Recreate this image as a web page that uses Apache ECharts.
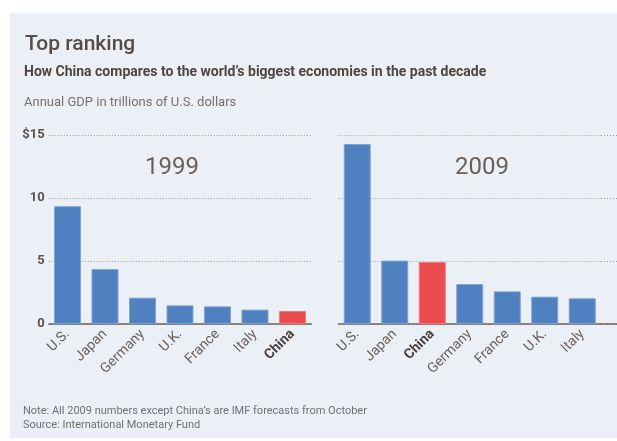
<!DOCTYPE html>
<html>
<head>
<meta charset="utf-8">
<script src="https://cdn.jsdelivr.net/npm/echarts@6/dist/echarts.min.js"></script>
<style>
html,body{margin:0;padding:0;background:#fff;}
#wrap{position:relative;width:617px;height:441px;overflow:hidden;}
#panel{position:absolute;left:10px;top:13px;width:607px;height:425px;background:#ebf0f7;}
#chart{position:absolute;left:0;top:0;width:617px;height:441px;}
</style>
</head>
<body>
<div id="wrap"><div id="panel"></div><div id="chart"></div></div>
<script>
const categories1999 = ['U.S.', 'Japan', 'Germany', 'U.K.', 'France', 'Italy', 'China'];
const values1999 = [9.35, 4.36, 2.09, 1.48, 1.40, 1.14, 1.03];
const categories2009 = ['U.S.', 'Japan', 'China', 'Germany', 'France', 'U.K.', 'Italy'];
const values2009 = [14.29, 5.03, 4.92, 3.17, 2.59, 2.17, 2.04];
const yTicks = [0, 5, 10, 15];
const yTickLabels = ['0', '5', '10', '$15'];
const highlight = 'China';

const FONT = "Roboto, 'Noto Sans', sans-serif";
const BLUE = '#4f81c0';
const RED = '#eb4a4e';
const TXT = '#5e524c';

function barData(cats, vals) {
  return vals.map((v, i) => ({
    value: v,
    itemStyle: { color: cats[i] === highlight ? RED : BLUE, borderColor: cats[i] === highlight ? '#f07a7d' : '#7fa3d3', borderWidth: 1 }
  }));
}
function xLabel() {
  return {
    rotate: 45, margin: 8, fontSize: 14, color: '#6b5f58', fontFamily: FONT, interval: 0,
    formatter: v => v === highlight ? '{b|' + v + '}' : v,
    rich: { b: { fontWeight: 'bold', color: '#4a3f3a', fontSize: 14, fontFamily: FONT } }
  };
}
const splitLine = { show: true, lineStyle: { type: [1, 2], color: '#9a9a9a', width: 1 } };
const axisLine = { lineStyle: { color: '#6f625b', width: 1.5 } };

const chart = echarts.init(document.getElementById('chart'), null, { renderer: 'canvas' });
chart.setOption({
  animation: false,
  title: [
    { text: 'Top ranking', left: 20, top: 29, textStyle: { fontSize: 21, fontWeight: 500, color: '#574b45', fontFamily: FONT } },
    { text: 'How China compares to the world\u2019s biggest economies in the past decade', left: 19, top: 60, textStyle: { fontSize: 14, fontWeight: 'bold', color: '#4f4540', fontFamily: FONT } },
    { text: 'Annual GDP in trillions of U.S. dollars', left: 19, top: 91, textStyle: { fontSize: 13, fontWeight: 'normal', color: '#7a6f69', fontFamily: FONT } },
    { text: '1999', left: 167, top: 151, textAlign: 'center', textStyle: { fontSize: 24, fontWeight: 'normal', color: '#6b5f58', fontFamily: FONT } },
    { text: '2009', left: 477, top: 151, textAlign: 'center', textStyle: { fontSize: 24, fontWeight: 'normal', color: '#6b5f58', fontFamily: FONT } },
    { text: 'Note: All 2009 numbers except China\u2019s are IMF forecasts from October\nSource: International Monetary Fund', left: 18, top: 399,
      textStyle: { fontSize: 11, fontWeight: 'normal', color: '#707070', fontFamily: FONT, lineHeight: 14 } }
  ],
  grid: [
    { left: 48.75, top: 135, width: 262.5, height: 189 },
    { left: 338.5, top: 135, width: 262.5, height: 189 },
    { left: 601, top: 135, width: 16, height: 189 }
  ],
  xAxis: [
    { type: 'category', gridIndex: 0, data: categories1999, axisTick: { show: false }, axisLine: axisLine, axisLabel: xLabel() },
    { type: 'category', gridIndex: 1, data: categories2009, axisTick: { show: false }, axisLine: axisLine, axisLabel: xLabel() },
    { type: 'category', gridIndex: 2, data: [''], axisTick: { show: false }, axisLine: axisLine, axisLabel: { show: false } }
  ],
  yAxis: [
    { type: 'value', gridIndex: 0, min: 0, max: 15, interval: 5,
      axisLine: { show: false }, axisTick: { show: false }, splitLine: splitLine,
      axisLabel: { margin: 4, fontSize: 13, fontWeight: 'bold', color: TXT, fontFamily: FONT,
        formatter: v => yTickLabels[yTicks.indexOf(v)] } },
    { type: 'value', gridIndex: 1, min: 0, max: 15, interval: 5,
      axisLine: { show: false }, axisTick: { show: false }, splitLine: splitLine, axisLabel: { show: false } },
    { type: 'value', gridIndex: 2, min: 0, max: 15, interval: 5,
      axisLine: { show: false }, axisTick: { show: false }, splitLine: splitLine, axisLabel: { show: false } }
  ],
  series: [
    { type: 'bar', xAxisIndex: 0, yAxisIndex: 0, barWidth: 27, data: barData(categories1999, values1999) },
    { type: 'bar', xAxisIndex: 1, yAxisIndex: 1, barWidth: 27, data: barData(categories2009, values2009) }
  ]
});
</script>
</body>
</html>
